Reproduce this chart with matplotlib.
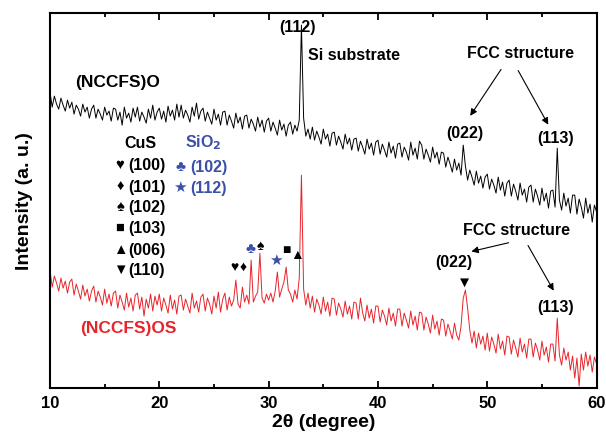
import numpy as np
import matplotlib
matplotlib.use("Agg")
import matplotlib.pyplot as plt

plt.rcParams['font.family'] = ['Liberation Sans', 'DejaVu Sans']
plt.rcParams['font.weight'] = 'bold'
plt.rcParams['mathtext.default'] = 'bf'

# --- DATA (2theta grid 10..60 step 0.2, intensities in arbitrary units) ---
two_theta = np.round(np.arange(10.0, 60.0001, 0.2), 1)

oxide = [
    296, 281, 292, 284, 279, 290, 283, 277, 288, 280,
    286, 274, 283, 279, 272, 284, 276, 281, 270, 279,
    283, 270, 279, 274, 268, 281, 273, 277, 267, 280,
    279, 268, 276, 263, 281, 270, 275, 266, 280, 271,
    281, 267, 276, 271, 265, 279, 270, 283, 268, 276,
    280, 269, 277, 266, 282, 272, 278, 268, 284, 271,
    283, 270, 278, 273, 266, 281, 272, 285, 269, 277,
    280, 267, 276, 270, 264, 279, 268, 274, 263, 276,
    277, 263, 273, 267, 260, 275, 265, 271, 259, 272,
    273, 260, 269, 264, 257, 271, 261, 268, 256, 267,
    270, 257, 266, 260, 253, 268, 258, 264, 252, 263,
    266, 254, 263, 257, 268, 363, 270, 252, 259, 249,
    261, 248, 257, 251, 244, 259, 249, 254, 242, 255,
    256, 243, 252, 246, 239, 254, 244, 250, 238, 249,
    250, 237, 247, 241, 234, 249, 239, 245, 233, 246,
    248, 234, 244, 238, 231, 246, 235, 242, 230, 244,
    245, 231, 241, 236, 228, 246, 233, 240, 229, 247,
    243, 229, 239, 233, 226, 241, 230, 236, 224, 236,
    235, 221, 231, 224, 216, 229, 218, 225, 213, 243,
    222, 208, 218, 211, 203, 217, 205, 212, 200, 211,
    214, 199, 209, 203, 195, 211, 198, 206, 192, 205,
    208, 192, 204, 197, 188, 205, 193, 199, 186, 201,
    203, 186, 199, 192, 183, 200, 187, 195, 180, 197,
    198, 181, 240, 188, 178, 195, 182, 190, 175, 193,
    193, 174, 189, 181, 170, 190, 175, 184, 166, 183,
    176,
]

oxysulfide = [
    118, 101, 112, 105, 97, 110, 100, 107, 95, 106,
    109, 93, 104, 97, 89, 103, 92, 99, 87, 97,
    102, 86, 97, 91, 83, 99, 85, 94, 82, 95,
    97, 80, 93, 86, 78, 95, 81, 90, 77, 93,
    95, 79, 91, 72, 89, 80, 94, 77, 92, 83,
    94, 77, 90, 83, 75, 93, 79, 88, 74, 92,
    93, 78, 89, 82, 75, 95, 80, 87, 76, 91,
    94, 77, 90, 84, 74, 92, 80, 96, 76, 89,
    95, 78, 91, 82, 88, 108, 84, 80, 101, 86,
    93, 84, 128, 86, 92, 96, 135, 90, 85, 94,
    88, 95, 86, 97, 116, 91, 99, 106, 121, 98,
    94, 86, 98, 89, 110, 213, 99, 83, 95, 80,
    92, 76, 89, 83, 74, 91, 77, 86, 72, 90,
    89, 73, 85, 79, 71, 87, 74, 82, 69, 86,
    85, 69, 90, 75, 67, 83, 70, 79, 65, 82,
    82, 66, 78, 72, 63, 80, 67, 75, 62, 79,
    79, 62, 75, 68, 60, 77, 63, 72, 58, 76,
    75, 58, 71, 64, 55, 73, 59, 67, 53, 69,
    68, 52, 64, 57, 49, 65, 53, 48, 62, 90,
    98, 80, 58, 45, 57, 40, 55, 44, 52, 38,
    55, 37, 51, 44, 35, 54, 39, 47, 33, 52,
    51, 34, 48, 40, 31, 50, 36, 44, 30, 49,
    49, 31, 45, 38, 28, 47, 33, 41, 26, 44,
    44, 27, 70, 33, 23, 40, 28, 36, 18, 32,
    10, 30, 2, 34, 18, 36, 22, 33, 16, 31,
    24,
]

# CuS reflections (legend) and SiO2 reflections
cus_symbols = ['♥', '♦', '♠', '■', '▲', '▼']
cus_hkl = ['(100)', '(101)', '(102)', '(103)', '(006)', '(110)']
sio2_symbols = ['♣', '★']
sio2_hkl = ['(102)', '(112)']

BLUE = '#3b50a8'
RED = '#e8242b'

fig = plt.figure(figsize=(6.06, 4.38), dpi=100)
ax = fig.add_axes([0.0825, 0.114, 0.902, 0.856])

ax.plot(two_theta, oxide, color='black', linewidth=0.7)
ax.plot(two_theta, oxysulfide, color=RED, linewidth=0.7)

ax.set_xlim(10, 60)
ax.set_ylim(0, 375)
ax.set_yticks([])
ax.set_xticks(np.arange(10, 61, 10))
ax.set_xticks(np.arange(15, 60, 10), minor=True)
ax.tick_params(axis='x', which='major', direction='in', top=True, length=5, width=1.3,
               labelsize=12, pad=6)
ax.tick_params(axis='x', which='minor', direction='in', top=True, length=3, width=1.3)
for sp in ax.spines.values():
    sp.set_linewidth(1.5)
for lab in ax.get_xticklabels():
    lab.set_fontweight('bold')

ax.set_xlabel('2θ (degree)', fontsize=14, fontweight='bold', labelpad=2)
ax.set_ylabel('Intensity (a. u.)', fontsize=14, fontweight='bold', labelpad=12)

fs = 11.5
# upper pattern annotations
ax.text(32.6, 361, '(112)', fontsize=fs, ha='center', va='center')
ax.text(33.6, 333, 'Si substrate', fontsize=fs, ha='left', va='center')
ax.text(53.0, 335, 'FCC structure', fontsize=fs, ha='center', va='center')
ax.annotate('', xy=(48.3, 270), xytext=(51.4, 321),
            arrowprops=dict(arrowstyle='-|>', color='black', lw=0.8, mutation_scale=10))
ax.annotate('', xy=(55.7, 261), xytext=(52.7, 320),
            arrowprops=dict(arrowstyle='-|>', color='black', lw=0.8, mutation_scale=10))
ax.text(47.9, 255, '(022)', fontsize=fs, ha='center', va='center')
ax.text(56.25, 250, '(113)', fontsize=fs, ha='center', va='center')
ax.text(12.3, 306, '(NCCFS)O', fontsize=12.5, ha='left', va='center')

# legend block
ax.text(18.3, 245, 'CuS', fontsize=fs, ha='center', va='center')
ax.text(24.0, 245, r'SiO$_2$', fontsize=fs, ha='center', va='center', color=BLUE)
cus_y = [223, 201, 181, 160, 138, 118]
for sym, hkl, yy in zip(cus_symbols, cus_hkl, cus_y):
    ax.text(16.4, yy, sym, fontsize=10.5, ha='center', va='center')
    ax.text(17.2, yy, hkl, fontsize=fs, ha='left', va='center')
sio2_y = [221, 200]
for sym, hkl, yy in zip(sio2_symbols, sio2_hkl, sio2_y):
    ax.text(21.9, yy, sym, fontsize=11, ha='center', va='center', color=BLUE)
    ax.text(22.8, yy, hkl, fontsize=fs, ha='left', va='center', color=BLUE)

# peak markers on the lower pattern
ax.text(26.9, 121, '♥', fontsize=10, ha='center', va='center')
ax.text(27.65, 121, '♦', fontsize=10, ha='center', va='center')
ax.text(28.3, 139, '♣', fontsize=11, ha='center', va='center', color=BLUE)
ax.text(29.25, 142, '♠', fontsize=10, ha='center', va='center')
ax.text(30.7, 127, '★', fontsize=11, ha='center', va='center', color=BLUE)
ax.text(31.6, 138, '■', fontsize=10, ha='center', va='center')
ax.text(32.6, 133, '▲', fontsize=10, ha='center', va='center')
ax.text(47.9, 105, '▼', fontsize=11, ha='center', va='center')

ax.text(52.7, 158, 'FCC structure', fontsize=fs, ha='center', va='center')
ax.annotate('', xy=(48.3, 136), xytext=(52.2, 146),
            arrowprops=dict(arrowstyle='-|>', color='black', lw=0.8, mutation_scale=10))
ax.annotate('', xy=(56.2, 95), xytext=(53.6, 145),
            arrowprops=dict(arrowstyle='-|>', color='black', lw=0.8, mutation_scale=10))
ax.text(46.9, 126, '(022)', fontsize=fs, ha='center', va='center')
ax.text(56.25, 81, '(113)', fontsize=fs, ha='center', va='center')
ax.text(12.8, 60, '(NCCFS)OS', fontsize=12.5, ha='left', va='center', color=RED)

fig.savefig('out.png', dpi=100)
